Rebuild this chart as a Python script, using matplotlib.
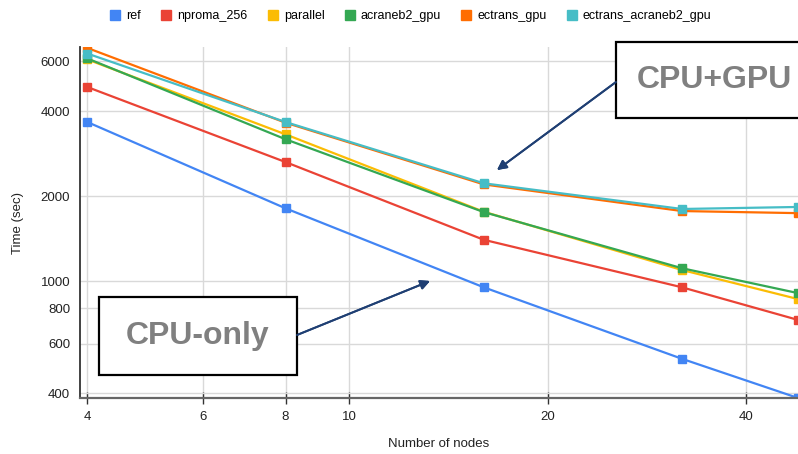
import matplotlib.pyplot as plt
from matplotlib.lines import Line2D
from matplotlib.patches import Rectangle
from matplotlib.ticker import FixedLocator, FixedFormatter, NullLocator

plt.rcParams['font.family'] = ['Liberation Sans', 'DejaVu Sans']

nodes = [4, 8, 16, 32, 48]
ref = [3660, 1810, 950, 530, 385]
nproma_256 = [4870, 2640, 1400, 950, 728]
parallel = [6100, 3310, 1760, 1094, 863]
acraneb2_gpu = [6150, 3180, 1755, 1110, 906]
ectrans_gpu = [6700, 3640, 2200, 1770, 1740]
ectrans_acraneb2_gpu = [6400, 3660, 2220, 1800, 1830]

names = ['ref', 'nproma_256', 'parallel', 'acraneb2_gpu', 'ectrans_gpu', 'ectrans_acraneb2_gpu']
series = [ref, nproma_256, parallel, acraneb2_gpu, ectrans_gpu, ectrans_acraneb2_gpu]
colors = ['#4285F4', '#EA4335', '#FBBC04', '#34A853', '#FF6D01', '#46BDC6']

xticks = [4, 6, 8, 10, 20, 40]
yticks = [400, 600, 800, 1000, 2000, 4000, 6000]

fig = plt.figure(figsize=(7.98, 4.54), dpi=100)
ax = fig.add_axes([80/798, 56/454, 718/798, 351/454])

for vals, c in zip(series, colors):
    ax.plot(nodes, vals, '-s', color=c, lw=1.6, ms=6, clip_on=True)

ax.set_xscale('log')
ax.set_yscale('log')
ax.set_xlim(3.9, 48)
ax.set_ylim(385, 6750)

ax.xaxis.set_major_locator(FixedLocator(xticks))
ax.xaxis.set_major_formatter(FixedFormatter([str(t) for t in xticks]))
ax.xaxis.set_minor_locator(NullLocator())
ax.yaxis.set_major_locator(FixedLocator(yticks))
ax.yaxis.set_major_formatter(FixedFormatter([str(t) for t in yticks]))
ax.yaxis.set_minor_locator(NullLocator())

ax.grid(True, color='#d9d9d9', lw=1)
ax.set_axisbelow(True)
for s in ['top', 'right']:
    ax.spines[s].set_visible(False)
ax.spines['left'].set_color('#333333')
ax.spines['left'].set_linewidth(1.3)
ax.spines['bottom'].set_color('#666666')
ax.spines['bottom'].set_linewidth(1.6)
ax.tick_params(axis='x', direction='inout', length=9, width=1, color='#333333',
               labelsize=9.5, labelcolor='#222222', pad=5)
ax.tick_params(axis='y', length=0, labelsize=9.5, labelcolor='#222222', pad=7)

ax.set_xlabel('Number of nodes', fontsize=9.5, color='#222222', labelpad=11)
ax.set_ylabel('Time (sec)', fontsize=9.5, color='#222222', labelpad=12)

handles = [Line2D([], [], marker='s', ls='none', color=c, ms=6.5) for c in colors]
fig.legend(handles, names, loc='center', bbox_to_anchor=(0.515, 1 - 16/454), ncol=6,
           frameon=False, fontsize=9, handlelength=0.8, handletextpad=0.5,
           columnspacing=1.6)

# annotation boxes
fig.add_artist(Rectangle((99/798, (454-375)/454), 198/798, 78/454, transform=fig.transFigure,
                         facecolor='white', edgecolor='black', lw=1.6, zorder=5))
fig.text(198/798, 1 - 336/454, 'CPU-only', ha='center', va='center', fontsize=23,
         fontweight='bold', color='#808080', zorder=6)
fig.add_artist(Rectangle((616/798, (454-118)/454), 200/798, 76/454, transform=fig.transFigure,
                         facecolor='white', edgecolor='black', lw=1.6, zorder=5))
fig.text(714/798, 1 - 80/454, 'CPU+GPU', ha='center', va='center', fontsize=23,
         fontweight='bold', color='#808080', zorder=6)

arrow = dict(arrowstyle='-|>', color='#1f3f73', lw=1.4, mutation_scale=14, shrinkA=0, shrinkB=0)
fig.add_artist(plt.annotate('', xy=(430/798, 1 - 281/454), xytext=(297/798, 1 - 335/454),
                            xycoords='figure fraction', textcoords='figure fraction',
                            arrowprops=arrow, zorder=6))
fig.add_artist(plt.annotate('', xy=(497/798, 1 - 170/454), xytext=(616/798, 1 - 82/454),
                            xycoords='figure fraction', textcoords='figure fraction',
                            arrowprops=arrow, zorder=6))

fig.savefig('out.png', dpi=100)
